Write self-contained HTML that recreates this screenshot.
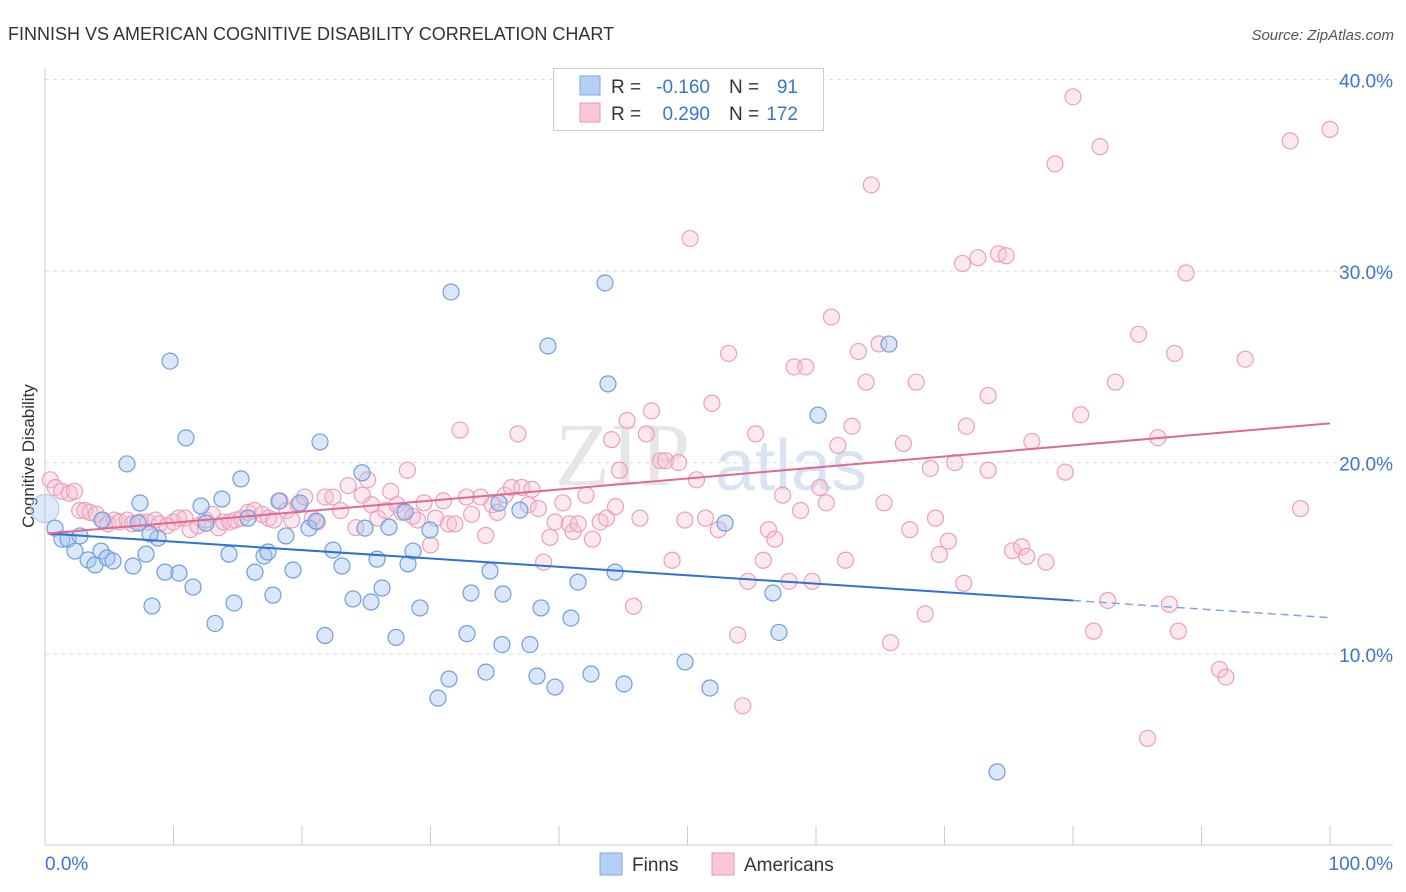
<!DOCTYPE html>
<html><head><meta charset="utf-8"><style>
body{margin:0;background:#fff;font-family:"Liberation Sans",sans-serif;}
#wrap{position:relative;width:1406px;height:892px;overflow:hidden;}
</style></head><body>
<div id="wrap">
<svg id="chart" width="1406" height="892" xmlns="http://www.w3.org/2000/svg">
<text x="8" y="40" font-size="18" fill="#333">FINNISH VS AMERICAN COGNITIVE DISABILITY CORRELATION CHART</text>
<text x="1394" y="40" font-size="15" fill="#555" font-style="italic" text-anchor="end">Source: ZipAtlas.com</text>
<text x="0" y="0" transform="translate(34,456) rotate(-90)" font-size="17" fill="#333" text-anchor="middle">Cognitive Disability</text>
<text x="555" y="485" font-size="90" fill="#e6e6e6" font-family="Liberation Serif,serif">ZIP</text>
<text x="715" y="490" font-size="72" fill="#d8e4f4">atlas</text>
<g id="grid"></g><g id="axes"></g><g id="pts"></g><g id="lines"></g>
<g>
<rect x="553.5" y="68.5" width="270" height="62" fill="#fff" stroke="#ccc"/>
<rect x="580" y="76" width="20" height="19" fill="#b5d0f3" stroke="#7aa8e0"/>
<rect x="580" y="103" width="20" height="19" fill="#f9c7d8" stroke="#e895b4"/>
<text x="611" y="93" font-size="19" fill="#333">R =</text>
<text x="710" y="93" font-size="19" fill="#3a75d0" text-anchor="end">-0.160</text>
<text x="729" y="93" font-size="19" fill="#333">N =</text>
<text x="798" y="93" font-size="19" fill="#3a75d0" text-anchor="end">91</text>
<text x="611" y="120" font-size="19" fill="#333">R =</text>
<text x="710" y="120" font-size="19" fill="#3a75d0" text-anchor="end">0.290</text>
<text x="729" y="120" font-size="19" fill="#333">N =</text>
<text x="798" y="120" font-size="19" fill="#3a75d0" text-anchor="end">172</text>
</g>
<g>
<rect x="600" y="853" width="22" height="22" fill="#b5d0f3" stroke="#7aa8e0"/>
<text x="632" y="871" font-size="19" fill="#333">Finns</text>
<rect x="712" y="853" width="22" height="22" fill="#f9c7d8" stroke="#e895b4"/>
<text x="744" y="871" font-size="19" fill="#333">Americans</text>
</g>
<text x="45" y="870" font-size="19" fill="#3a75d0">0.0%</text>
<text x="1393" y="870" font-size="19" fill="#3a75d0" text-anchor="end">100.0%</text>
</svg>
</div>
<script>
const yTicks=[10,20,30,40];
const yTickLabels=["10.0%","20.0%","30.0%","40.0%"];
const xTicks=[0,10,20,30,40,50,60,70,80,90,100];
const finnsX=[0.78,1.32,1.79,2.33,2.72,3.35,3.89,4.36,4.82,5.29,6.38,6.85,7.39,7.86,8.33,8.79,9.34,9.73,10.43,10.97,11.52,12.14,12.53,13.23,13.77,14.32,14.71,15.25,15.8,16.34,17.04,17.35,17.74,18.21,18.75,19.3,19.84,20.54,21.09,21.4,21.79,22.41,23.11,23.97,24.67,24.9,25.37,25.84,26.23,26.77,27.32,28.25,28.64,29.18,29.96,30.58,31.44,31.6,32.84,33.15,34.32,34.63,35.56,35.64,36.96,37.74,38.29,38.6,39.14,39.69,40.93,41.48,42.49,43.58,43.81,44.36,45.06,49.81,51.75,52.92,56.65,57.12,60.16,65.68,74.09,35.33,28.02,8.17,7.24,4.44];
const finnsY=[16.58,16.0,16.0,15.38,16.17,14.92,14.66,15.38,15.02,14.86,19.93,14.6,17.89,15.22,12.51,16.06,14.28,25.3,14.23,21.29,13.5,17.73,16.84,11.6,18.1,15.22,12.67,19.15,17.1,14.28,15.12,15.33,13.08,17.99,16.17,14.39,17.89,16.58,16.94,21.08,10.97,15.43,14.6,12.88,19.47,16.58,12.72,14.96,13.45,16.63,10.87,14.71,15.38,12.41,16.48,7.7,8.7,28.91,11.07,13.19,9.06,14.34,10.5,13.14,17.52,10.5,8.85,12.41,26.09,8.28,11.88,13.76,8.96,29.38,24.11,14.28,8.44,9.59,8.23,16.84,13.19,11.13,22.48,26.19,3.85,17.89,17.42,16.27,16.84,17.0];
const amerX=[0.4,0.8,1.3,1.9,2.3,2.7,3.1,3.5,4.0,4.5,4.9,5.4,5.8,6.4,6.8,7.4,8.0,8.6,8.9,9.5,10.0,10.4,10.9,11.3,11.9,12.5,13.0,13.5,13.9,14.4,14.8,15.3,15.8,16.3,16.9,17.4,17.8,18.3,18.8,19.2,19.7,20.2,20.8,21.2,21.8,22.4,23.0,23.6,24.2,24.7,25.1,25.4,25.9,26.5,26.9,27.4,27.8,28.2,28.6,29.0,29.5,30.0,30.4,31.0,31.4,31.9,32.3,32.8,33.2,33.9,34.3,34.8,35.2,35.8,36.3,36.8,37.1,37.6,37.9,38.4,38.8,39.3,39.7,40.3,40.8,41.1,41.5,42.1,42.6,43.2,43.7,44.1,44.4,44.7,45.3,45.8,46.3,46.8,47.2,47.9,48.3,48.8,49.3,49.8,50.2,50.7,51.4,51.9,52.4,53.2,53.9,54.3,54.7,55.3,55.9,56.3,56.8,57.4,57.9,58.3,58.8,59.2,59.7,60.3,60.8,61.2,61.7,62.3,62.8,63.3,63.9,64.3,64.9,65.3,65.8,66.8,67.3,67.8,68.5,69.3,69.6,70.3,70.8,71.4,71.7,72.6,73.4,74.2,74.8,75.3,76.0,76.4,76.8,77.9,78.6,79.4,80.0,80.6,81.6,82.1,82.7,83.3,85.1,85.8,86.6,87.5,87.9,88.2,88.8,91.4,91.9,93.4,96.9,97.7,100,71.5,68.9,73.4];
const amerY=[19.1,18.7,18.5,18.4,18.5,17.5,17.5,17.4,17.3,17.0,16.8,17.0,16.9,17.0,16.8,16.9,16.9,17.0,16.8,16.7,16.9,17.1,17.1,16.5,16.7,17.0,17.3,16.6,16.9,16.9,17.0,17.1,17.4,17.5,17.3,17.1,17.0,18.0,17.5,17.0,17.8,18.2,17.1,16.9,18.2,18.2,17.5,18.8,16.6,18.3,19.1,17.8,17.1,17.5,18.5,17.8,17.4,19.6,17.2,17.0,17.9,15.7,17.1,18.0,16.8,16.8,21.7,18.2,17.3,18.2,16.2,17.8,17.4,18.3,18.7,21.5,18.7,17.8,18.6,17.6,14.8,16.1,16.9,17.9,16.8,16.4,16.8,18.3,16.0,16.9,17.1,21.2,17.7,19.6,22.2,12.5,17.1,21.5,22.7,20.1,20.1,14.9,20.0,17.0,31.7,19.1,17.1,23.1,16.5,25.7,11.0,7.3,13.8,21.5,14.9,16.5,16.0,18.3,13.8,25.0,17.5,25.0,13.8,18.7,17.9,27.6,20.9,14.9,21.9,25.8,24.2,34.5,26.2,17.9,10.6,21.0,16.5,24.2,12.1,17.1,15.2,15.9,20.0,30.4,21.9,30.7,23.5,30.9,30.8,15.4,15.6,15.1,21.1,14.8,35.6,19.5,39.1,22.5,11.2,36.5,12.8,24.2,26.7,5.6,21.3,12.6,25.7,11.2,29.9,9.2,8.8,25.4,36.8,17.6,37.4,13.7,19.7,19.6];
const finnsTrendX=[0.2,80,100];
const finnsTrendY=[16.3,12.8,11.9];
const amerTrendX=[0.2,100];
const amerTrendY=[16.3,22.05];

const NS="http://www.w3.org/2000/svg";
function xs(v){return 45+v*12.85;}
function ys(v){return 845.6-v*19.15;}
function mk(tag,attrs,parent){const e=document.createElementNS(NS,tag);for(const k in attrs)e.setAttribute(k,attrs[k]);parent.appendChild(e);return e;}
const grid=document.getElementById('grid'),axes=document.getElementById('axes'),pts=document.getElementById('pts'),lines=document.getElementById('lines');
yTicks.forEach((t,i)=>{
  const l=mk('line',{x1:45,x2:1393,y1:ys(t),y2:ys(t),stroke:'#ddd','stroke-dasharray':'4,4'},grid);
  
  
  const tx=mk('text',{x:1393,y:ys(t)+8,'font-size':19,fill:'#3a75d0','text-anchor':'end'},grid);
  tx.textContent=yTickLabels[i];
  
  
});
const yl=mk('line',{x1:45,x2:45,y1:68,y2:845,stroke:'#ccc'},axes);


const xl=mk('line',{x1:45,x2:1393,y1:845,y2:845,stroke:'#ccc'},axes);


xTicks.forEach(t=>{
  const l=mk('line',{x1:xs(t),x2:xs(t),y1:826,y2:845,stroke:'#ccc'},axes);
  
  
});
const big=mk('circle',{cx:xs(0),cy:ys(17.6),r:14,fill:'rgba(160,196,240,0.35)',stroke:'#a9c6ee'},pts);


amerX.forEach((x,i)=>{
  const c=mk('circle',{cx:xs(x),cy:ys(amerY[i]),r:8,fill:'rgba(246,188,208,0.35)',stroke:'#eaa0bc','stroke-width':1.2},pts);
  
  
});
finnsX.forEach((x,i)=>{
  const c=mk('circle',{cx:xs(x),cy:ys(finnsY[i]),r:8,fill:'rgba(160,196,240,0.4)',stroke:'#6f9fde','stroke-width':1.2},pts);
  
  
});
const f1=mk('line',{x1:xs(finnsTrendX[0]),y1:ys(finnsTrendY[0]),x2:xs(finnsTrendX[1]),y2:ys(finnsTrendY[1]),stroke:'#2f6fd6','stroke-width':2},lines);


const f2=mk('line',{x1:xs(finnsTrendX[1]),y1:ys(finnsTrendY[1]),x2:xs(finnsTrendX[2]),y2:ys(finnsTrendY[2]),stroke:'#7ea6e0','stroke-width':1.5,'stroke-dasharray':'8,5'},lines);


const a1=mk('line',{x1:xs(amerTrendX[0]),y1:ys(amerTrendY[0]),x2:xs(amerTrendX[1]),y2:ys(amerTrendY[1]),stroke:'#e0698f','stroke-width':2},lines);


</script>
</body></html>
